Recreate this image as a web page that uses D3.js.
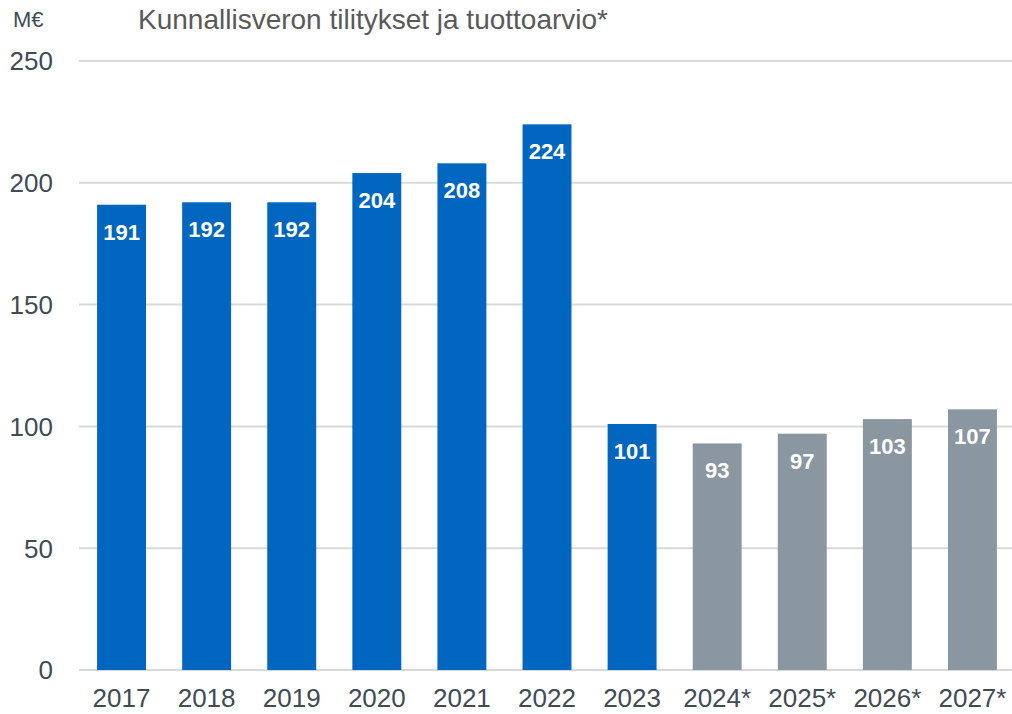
<!DOCTYPE html>
<html>
<head>
<meta charset="utf-8">
<script src="https://cdn.jsdelivr.net/npm/d3@7"></script>
<style>
  body { margin: 0; background: #fff; }
  svg { font-family: "Liberation Sans", Arial, sans-serif; }
</style>
</head>
<body>
<svg id="chart" width="1012" height="714"></svg>
<script>
//////////////////// DATA ////////////////////
const years = ["2017", "2018", "2019", "2020", "2021", "2022", "2023", "2024*", "2025*", "2026*", "2027*"];
const values = [191, 192, 192, 204, 208, 224, 101, 93, 97, 103, 107];
const isEstimate = [false, false, false, false, false, false, false, true, true, true, true];
const yTicks = [0, 50, 100, 150, 200, 250];
const titleText = "Kunnallisveron tilitykset ja tuottoarvio*";
const unitText = "M€";

//////////////////// SIZES ////////////////////
const plot = { left: 79, right: 1015, top: 61, bottom: 670 };

const svg = d3.select("#chart");

//////////////////// SCALES ////////////////////
const x = d3.scaleBand()
    .domain(years)
    .range([plot.left, plot.right])
    .paddingInner(0.425)
    .paddingOuter(0.2125);

const y = d3.scaleLinear()
    .domain([0, 250])
    .range([plot.bottom, plot.top]);

//////////////////// GRID ////////////////////
svg.append("g")
    .selectAll("line")
    .data(yTicks)
    .join("line")
    .attr("x1", plot.left)
    .attr("x2", plot.right)
    .attr("y1", d => y(d))
    .attr("y2", d => y(d))
    .attr("stroke", "#d9d9d9")
    .attr("stroke-width", 2);

// y tick labels
svg.append("g")
    .selectAll("text")
    .data(yTicks)
    .join("text")
    .attr("x", 53)
    .attr("y", d => y(d))
    .attr("dy", "0.36em")
    .attr("text-anchor", "end")
    .attr("font-size", 26)
    .attr("fill", "#404b55")
    .text(d => d);

//////////////////// BARS ////////////////////
const data = years.map((yr, i) => ({ year: yr, value: values[i], est: isEstimate[i] }));

svg.append("g")
    .selectAll("rect")
    .data(data)
    .join("rect")
    .attr("x", d => x(d.year))
    .attr("width", x.bandwidth())
    .attr("y", d => y(d.value))
    .attr("height", d => y(0) - y(d.value))
    .attr("fill", d => d.est ? "#8a96a0" : "#0066bf");

// value labels inside bars
svg.append("g")
    .selectAll("text")
    .data(data)
    .join("text")
    .attr("x", d => x(d.year) + x.bandwidth() / 2)
    .attr("y", d => y(d.value) + 35)
    .attr("text-anchor", "middle")
    .attr("font-size", 22)
    .attr("font-weight", "bold")
    .attr("fill", "#fff")
    .text(d => d.value);

// x labels
svg.append("g")
    .selectAll("text")
    .data(years)
    .join("text")
    .attr("x", d => x(d) + x.bandwidth() / 2)
    .attr("y", 707)
    .attr("text-anchor", "middle")
    .attr("font-size", 26)
    .attr("fill", "#404b55")
    .text(d => d);

//////////////////// TITLES ////////////////////
svg.append("text")
    .attr("x", 13)
    .attr("y", 27)
    .attr("font-size", 22)
    .attr("fill", "#404b55")
    .text(unitText);

svg.append("text")
    .attr("x", 138)
    .attr("y", 29)
    .attr("font-size", 28)
    .attr("fill", "#595959")
    .text(titleText);
</script>
</body>
</html>
